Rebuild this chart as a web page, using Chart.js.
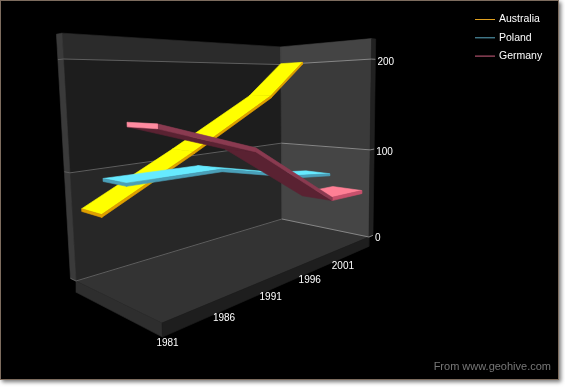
<!DOCTYPE html>
<html lang="en">
<head>
<meta charset="UTF-8">
<title>Australia, Poland, Germany</title>
<script src="https://cdn.jsdelivr.net/npm/chart.js@4/dist/chart.umd.min.js"></script>
<style>
    html, body { margin: 0; padding: 0; background: #fff; overflow: hidden; }
    #frame {
        position: absolute; left: 0; top: 0; width: 557px; height: 378px;
        background: #000; border: 1px solid #7d6c5e; box-shadow: 2px 2px 4px #777;
    }
    #chart { position: absolute; left: 0; top: 0; }
</style>
</head>
<body>
<div id="frame"></div>
<canvas id="chart" width="565" height="387"></canvas>
<script>
// data
const seriesNames = ["Australia", "Poland", "Germany"];
const dataYears = [1981, 1990, 2000, 2005];
const australia = [66, 110, 162, 201];
const poland = [98, 96, 74, 68];
const germany = [147, 119, 55, 53];
const yearTicks = [1981, 1986, 1991, 1996, 2001];
const valueTicks = [0, 100, 200];

const seriesValues = [australia, poland, germany];
const rows = [[0.01, 0.276], [0.315, 0.59], [0.625, 0.93]];
const looks = [
    { top: "#ffff00", side: "#e0a000", sideDim: "#e0a000", under: "#c09000", cap: "#e0a000", legend: "#e0a020" },
    { top: "#66eaff", side: "#4a9fb8", sideDim: "#4a9fb8", under: "#35788c", cap: "#4a9fb8", legend: "#5aa8c0" },
    { top: "#ff7f95", side: "#c8506c", sideDim: "#8a3a50", under: "#5a2232", cap: "#ff8ba0", legend: "#d06080" }
];

// camera of the fake 3d box: a = along the years, d = depth, z = value / 200
function project(a, d, z) {
    const w = 1 + 0.4356 * a - 0.1879 * d - 0.05 * z;
    return {
        x: (76 + 328.8 * a + 55.56 * d - 15.68 * z) / w,
        y: (281 + 33.4 * a - 18.69 * d - 224.95 * z) / w
    };
}
function yearToA(y) { return 0.03 + 0.04017 * (y - 1981); }
function valueToZ(v) { return v / 200; }

const datasets = [];
function addPoly(pts, color) {
    const data = pts.map(p => project(p[0], p[1], p[2]));
    data.push(data[0]);
    datasets.push({
        data: data, fill: "shape", backgroundColor: color, borderColor: color,
        borderWidth: 0.6, pointRadius: 0, showLine: true, tension: 0,
        order: -datasets.length
    });
}
function addLine(pts, color) {
    datasets.push({
        data: pts.map(p => project(p[0], p[1], p[2])), fill: false, borderColor: color,
        borderWidth: 1, pointRadius: 0, showLine: true, tension: 0,
        order: -datasets.length
    });
}

// box
const topZ = 1.11, slab = -0.055;
addPoly([[0, 0, 0], [1, 0, 0], [1, 1, 0], [0, 1, 0]], "#333333");
addPoly([[0, 0, 0], [0, 1, 0], [0, 1, slab], [0, 0, slab]], "#2e2e2e");
addPoly([[0, 1, 0], [1, 1, 0], [1, 1, slab], [0, 1, slab]], "#1e1e1e");
addPoly([[0, 0, 0], [1, 0, 0], [1, 0, 0.5], [0, 0, 0.5]], "#272727");
addPoly([[0, 0, 0.5], [1, 0, 0.5], [1, 0, 1], [0, 0, 1]], "#1d1d1d");
addPoly([[0, 0, 1], [1, 0, 1], [1, 0, topZ], [0, 0, topZ]], "#2b2b2b");
addPoly([[1, 0, 0], [1, 1, 0], [1, 1, 0.5], [1, 0, 0.5]], "#454545");
addPoly([[1, 0, 0.5], [1, 1, 0.5], [1, 1, 1], [1, 0, 1]], "#3a3a3a");
addPoly([[1, 0, 1], [1, 1, 1], [1, 1, topZ], [1, 0, topZ]], "#444444");
addPoly([[0, -0.08, 0], [0, 0, 0], [0, 0, topZ], [0, -0.08, topZ]], "#3a3a3a");
addPoly([[1, 1, 0], [1.03, 1, 0], [1.03, 1, topZ], [1, 1, topZ]], "#212121");

// grid lines
valueTicks.forEach(function (v) {
    const z = valueToZ(v);
    addLine([[0, -0.08, z], [0, 0, z], [1, 0, z]], "#5e5e5e");
    addLine([[1, 0, z], [1, 1, z], [1.03, 1, z]], "#868686");
});

// ribbons, back row first, far segments first
seriesValues.forEach(function (values, s) {
    const d1 = rows[s][0], d2 = rows[s][1], look = looks[s], t = s == 2 ? 0.018 : 0.013;
    for (let i = values.length - 2; i >= 0; i--) {
        const a1 = yearToA(dataYears[i]), a2 = yearToA(dataYears[i + 1]);
        const z1 = valueToZ(values[i]), z2 = valueToZ(values[i + 1]);
        const p = project(a1, d1, z1), q = project(a2, d1, z2), r = project(a2, d2, z2);
        const seenFromAbove = (q.x - p.x) * (r.y - q.y) - (q.y - p.y) * (r.x - q.x) > 0;
        if (seenFromAbove) {
            addPoly([[a1, d1, z1], [a2, d1, z2], [a2, d2, z2], [a1, d2, z1]], look.top);
        } else {
            addPoly([[a1, d1, z1 - t], [a2, d1, z2 - t], [a2, d2, z2 - t], [a1, d2, z1 - t]], look.under);
        }
        addPoly([[a1, d2, z1], [a2, d2, z2], [a2, d2, z2 - t], [a1, d2, z1 - t]], seenFromAbove ? look.side : look.sideDim);
    }
    const a0 = yearToA(dataYears[0]), z0 = valueToZ(values[0]);
    addPoly([[a0, d1, z0], [a0, d2, z0], [a0, d2, z0 - t], [a0, d1, z0 - t]], look.cap);
});

// tick labels, legend and credit are written as text on top of the scales
const textPlugin = {
    id: "texts",
    afterDraw: function (chart) {
        const ctx = chart.ctx, sx = chart.scales.x, sy = chart.scales.y;
        ctx.save();
        ctx.textBaseline = "middle";
        ctx.fillStyle = "#ffffff";
        ctx.font = "10px 'Liberation Sans'";
        ctx.textAlign = "center";
        yearTicks.forEach(function (y) {
            const p = project(yearToA(y) - 0.014, 1, slab);
            ctx.fillText(String(y), sx.getPixelForValue(p.x), sy.getPixelForValue(p.y + 8));
        });
        ctx.textAlign = "left";
        valueTicks.forEach(function (v) {
            const p = project(1.03, 1, valueToZ(v));
            ctx.fillText(String(v), sx.getPixelForValue(p.x + 2), sy.getPixelForValue(p.y + 3));
        });
        ctx.font = "10.5px 'Liberation Sans'";
        seriesNames.forEach(function (name, i) {
            const y = 19.5 + i * 18.3;
            ctx.strokeStyle = looks[i].legend;
            ctx.lineWidth = 1;
            ctx.beginPath();
            ctx.moveTo(475, y);
            ctx.lineTo(495, y);
            ctx.stroke();
            ctx.fillStyle = "#ffffff";
            ctx.fillText(name, 499, y);
        });
        ctx.fillStyle = "#777777";
        ctx.font = "11px 'Liberation Sans'";
        ctx.textAlign = "right";
        ctx.fillText("From www.geohive.com", 551, 367);
        ctx.restore();
    }
};

new Chart(document.getElementById("chart"), {
    type: "scatter",
    data: { datasets: datasets },
    plugins: [textPlugin],
    options: {
        responsive: false,
        animation: false,
        layout: { padding: 0 },
        plugins: { legend: { display: false }, tooltip: { enabled: false } },
        scales: {
            x: { type: "linear", min: 0, max: 565, display: false },
            y: { type: "linear", min: 0, max: 387, reverse: true, display: false }
        }
    }
});
</script>
</body>
</html>
